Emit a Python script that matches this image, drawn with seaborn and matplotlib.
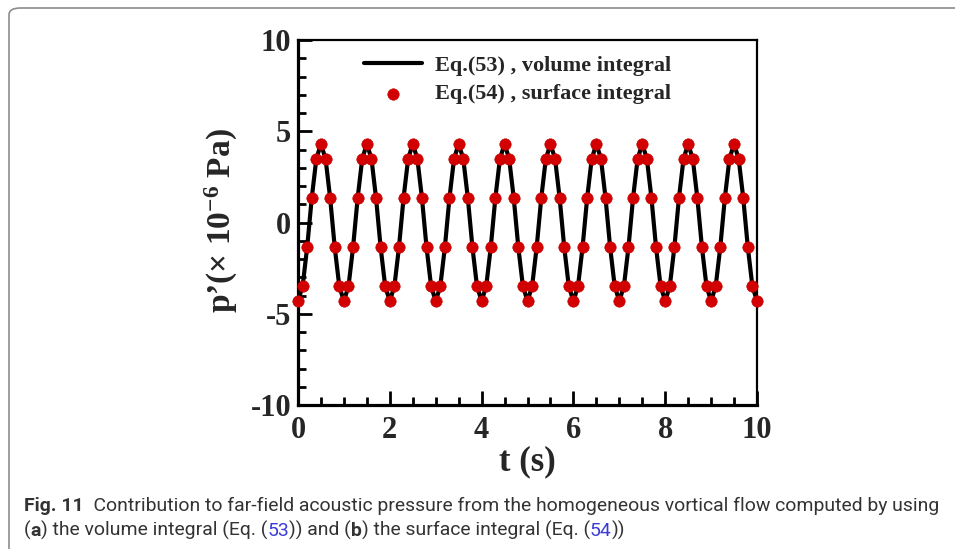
import matplotlib
matplotlib.use("Agg")
import matplotlib.pyplot as plt
from matplotlib.patches import FancyBboxPatch
from matplotlib.ticker import MultipleLocator
from matplotlib import font_manager
import seaborn as sns
import pandas as pd

# ---- data ----
t_s = [0.0, 0.1, 0.2, 0.3, 0.4, 0.5, 0.6, 0.7, 0.8, 0.9,
       1.0, 1.1, 1.2, 1.3, 1.4, 1.5, 1.6, 1.7, 1.8, 1.9,
       2.0, 2.1, 2.2, 2.3, 2.4, 2.5, 2.6, 2.7, 2.8, 2.9,
       3.0, 3.1, 3.2, 3.3, 3.4, 3.5, 3.6, 3.7, 3.8, 3.9,
       4.0, 4.1, 4.2, 4.3, 4.4, 4.5, 4.6, 4.7, 4.8, 4.9,
       5.0, 5.1, 5.2, 5.3, 5.4, 5.5, 5.6, 5.7, 5.8, 5.9,
       6.0, 6.1, 6.2, 6.3, 6.4, 6.5, 6.6, 6.7, 6.8, 6.9,
       7.0, 7.1, 7.2, 7.3, 7.4, 7.5, 7.6, 7.7, 7.8, 7.9,
       8.0, 8.1, 8.2, 8.3, 8.4, 8.5, 8.6, 8.7, 8.8, 8.9,
       9.0, 9.1, 9.2, 9.3, 9.4, 9.5, 9.6, 9.7, 9.8, 9.9,
       10.0]
p_volume = [-4.3, -3.5, -1.35, 1.35, 3.5, 4.3, 3.5, 1.35, -1.35, -3.5,
            -4.3, -3.5, -1.35, 1.35, 3.5, 4.3, 3.5, 1.35, -1.35, -3.5,
            -4.3, -3.5, -1.35, 1.35, 3.5, 4.3, 3.5, 1.35, -1.35, -3.5,
            -4.3, -3.5, -1.35, 1.35, 3.5, 4.3, 3.5, 1.35, -1.35, -3.5,
            -4.3, -3.5, -1.35, 1.35, 3.5, 4.3, 3.5, 1.35, -1.35, -3.5,
            -4.3, -3.5, -1.35, 1.35, 3.5, 4.3, 3.5, 1.35, -1.35, -3.5,
            -4.3, -3.5, -1.35, 1.35, 3.5, 4.3, 3.5, 1.35, -1.35, -3.5,
            -4.3, -3.5, -1.35, 1.35, 3.5, 4.3, 3.5, 1.35, -1.35, -3.5,
            -4.3, -3.5, -1.35, 1.35, 3.5, 4.3, 3.5, 1.35, -1.35, -3.5,
            -4.3, -3.5, -1.35, 1.35, 3.5, 4.3, 3.5, 1.35, -1.35, -3.5,
            -4.3]
p_surface = [-4.3, -3.5, -1.35, 1.35, 3.5, 4.3, 3.5, 1.35, -1.35, -3.5,
             -4.3, -3.5, -1.35, 1.35, 3.5, 4.3, 3.5, 1.35, -1.35, -3.5,
             -4.3, -3.5, -1.35, 1.35, 3.5, 4.3, 3.5, 1.35, -1.35, -3.5,
             -4.3, -3.5, -1.35, 1.35, 3.5, 4.3, 3.5, 1.35, -1.35, -3.5,
             -4.3, -3.5, -1.35, 1.35, 3.5, 4.3, 3.5, 1.35, -1.35, -3.5,
             -4.3, -3.5, -1.35, 1.35, 3.5, 4.3, 3.5, 1.35, -1.35, -3.5,
             -4.3, -3.5, -1.35, 1.35, 3.5, 4.3, 3.5, 1.35, -1.35, -3.5,
             -4.3, -3.5, -1.35, 1.35, 3.5, 4.3, 3.5, 1.35, -1.35, -3.5,
             -4.3, -3.5, -1.35, 1.35, 3.5, 4.3, 3.5, 1.35, -1.35, -3.5,
             -4.3, -3.5, -1.35, 1.35, 3.5, 4.3, 3.5, 1.35, -1.35, -3.5,
             -4.3]
label_volume = "Eq.(53) , volume integral"
label_surface = "Eq.(54) , surface integral"
x_ticks = [0, 2, 4, 6, 8, 10]
y_ticks = [-10, -5, 0, 5, 10]
y_tick_labels = ["-10", "-5", "0", "5", "10"]

df = pd.DataFrame({"t": t_s, "vol": p_volume, "surf": p_surface})

sns.set_theme(style="white")
plt.rcParams["font.family"] = ["Liberation Serif", "DejaVu Serif"]
plt.rcParams["mathtext.fontset"] = "custom"
plt.rcParams["mathtext.rm"] = "Liberation Serif:bold"
plt.rcParams["mathtext.bf"] = "Liberation Serif:bold"
plt.rcParams["mathtext.it"] = "Liberation Serif:bold"
plt.rcParams["mathtext.default"] = "rm"

W, H = 955, 549
fig = plt.figure(figsize=(W / 100, H / 100), dpi=100)
fig.patch.set_facecolor("white")

# rounded frame of the figure panel
frame = FancyBboxPatch((9 / W, -0.2), 1.2, 1 - 8 / H + 0.2,
                       boxstyle="round,pad=0,rounding_size=0.012",
                       transform=fig.transFigure, fill=False,
                       edgecolor="#8c8c8c", linewidth=1.2, clip_on=False)
fig.patches.append(frame)

ax = fig.add_axes([298 / W, 1 - 405 / H, (757 - 298) / W, (405 - 40) / H])

sns.lineplot(data=df, x="t", y="vol", ax=ax, color="black", linewidth=3.0,
             label=label_volume, clip_on=False, zorder=2)
sns.scatterplot(data=df, x="t", y="surf", ax=ax, color="#d20000",
                edgecolor="#c00000", linewidth=0.4, s=68,
                label=label_surface, clip_on=False, zorder=3)

ax.set_xlim(0, 10)
ax.set_ylim(-10, 10)
ax.set_xticks(x_ticks)
ax.set_xticklabels([str(v) for v in x_ticks])
ax.set_yticks(y_ticks)
ax.set_yticklabels(y_tick_labels)
ax.xaxis.set_minor_locator(MultipleLocator(0.5))
ax.yaxis.set_minor_locator(MultipleLocator(1))

for s in ["left", "bottom"]:
    ax.spines[s].set_linewidth(2.3)
for s in ["top", "right"]:
    ax.spines[s].set_linewidth(1.6)
for s in ax.spines.values():
    s.set_color("black")
    s.set_visible(True)

ax.tick_params(axis="both", which="major", direction="in", length=10,
               width=2.0, color="black", labelsize=22, pad=5,
               bottom=True, left=True, top=False, right=False)
ax.tick_params(axis="x", which="major", pad=8)
ax.tick_params(axis="both", which="minor", direction="in", length=6,
               width=2.0, color="black",
               bottom=True, left=True, top=False, right=False)
for lab in ax.get_xticklabels() + ax.get_yticklabels():
    lab.set_fontweight("bold")

ax.set_xlabel("t (s)", fontsize=25, fontweight="bold")
ax.xaxis.set_label_coords(0.5, -0.11)
ax.set_ylabel("p\u2019(× 10$^{-6}$ Pa)", fontsize=24, fontweight="bold")
ax.yaxis.set_label_coords(-0.126, 0.504)
ax.grid(False)

leg = ax.legend(loc="upper left", bbox_to_anchor=(0.11, 1.0), frameon=False,
                prop={"family": "Liberation Serif", "weight": "bold", "size": 16},
                handlelength=2.6, handletextpad=0.6, labelspacing=0.35,
                borderaxespad=0.3)

# caption
fig.canvas.draw()
renderer = fig.canvas.get_renderer()
names = {f.name for f in font_manager.fontManager.ttflist}
cap_family = "Liberation Sans Narrow" if "Liberation Sans Narrow" in names else "Roboto"
cap_font = [cap_family, "DejaVu Sans"]
grey = "#333333"
blue = "#3b3bd6"

line1 = [("Fig. 11", "bold", grey),
         ("  Contribution to far-field acoustic pressure from the homogeneous "
          "vortical flow computed by using", "normal", grey)]
line2 = [("(", "normal", grey), ("a", "bold", grey),
         (") the volume integral (Eq. (", "normal", grey), ("53", "normal", blue),
         (")) and (", "normal", grey), ("b", "bold", grey),
         (") the surface integral (Eq. (", "normal", grey), ("54", "normal", blue),
         ("))", "normal", grey)]


def write_run(parts, x_px, y_px, size, draw=True):
    x = x_px
    made = []
    for txt, weight, col in parts:
        tt = fig.text(x / W, 1 - y_px / H, txt, family=cap_font, size=size,
                      weight=weight, color=col, ha="left", va="baseline")
        bb = tt.get_window_extent(renderer=renderer)
        x += bb.width
        made.append(tt)
    if not draw:
        for tt in made:
            tt.remove()
    return x


x0 = 24
target_end = 932
probe = 11.0
end = write_run(line1, x0, 511, probe, draw=False)
cap_size = probe * (target_end - x0) / (end - x0)
write_run(line1, x0, 511, cap_size)
write_run(line2, x0, 536, cap_size)

fig.savefig("out.png", dpi=100, facecolor="white")
